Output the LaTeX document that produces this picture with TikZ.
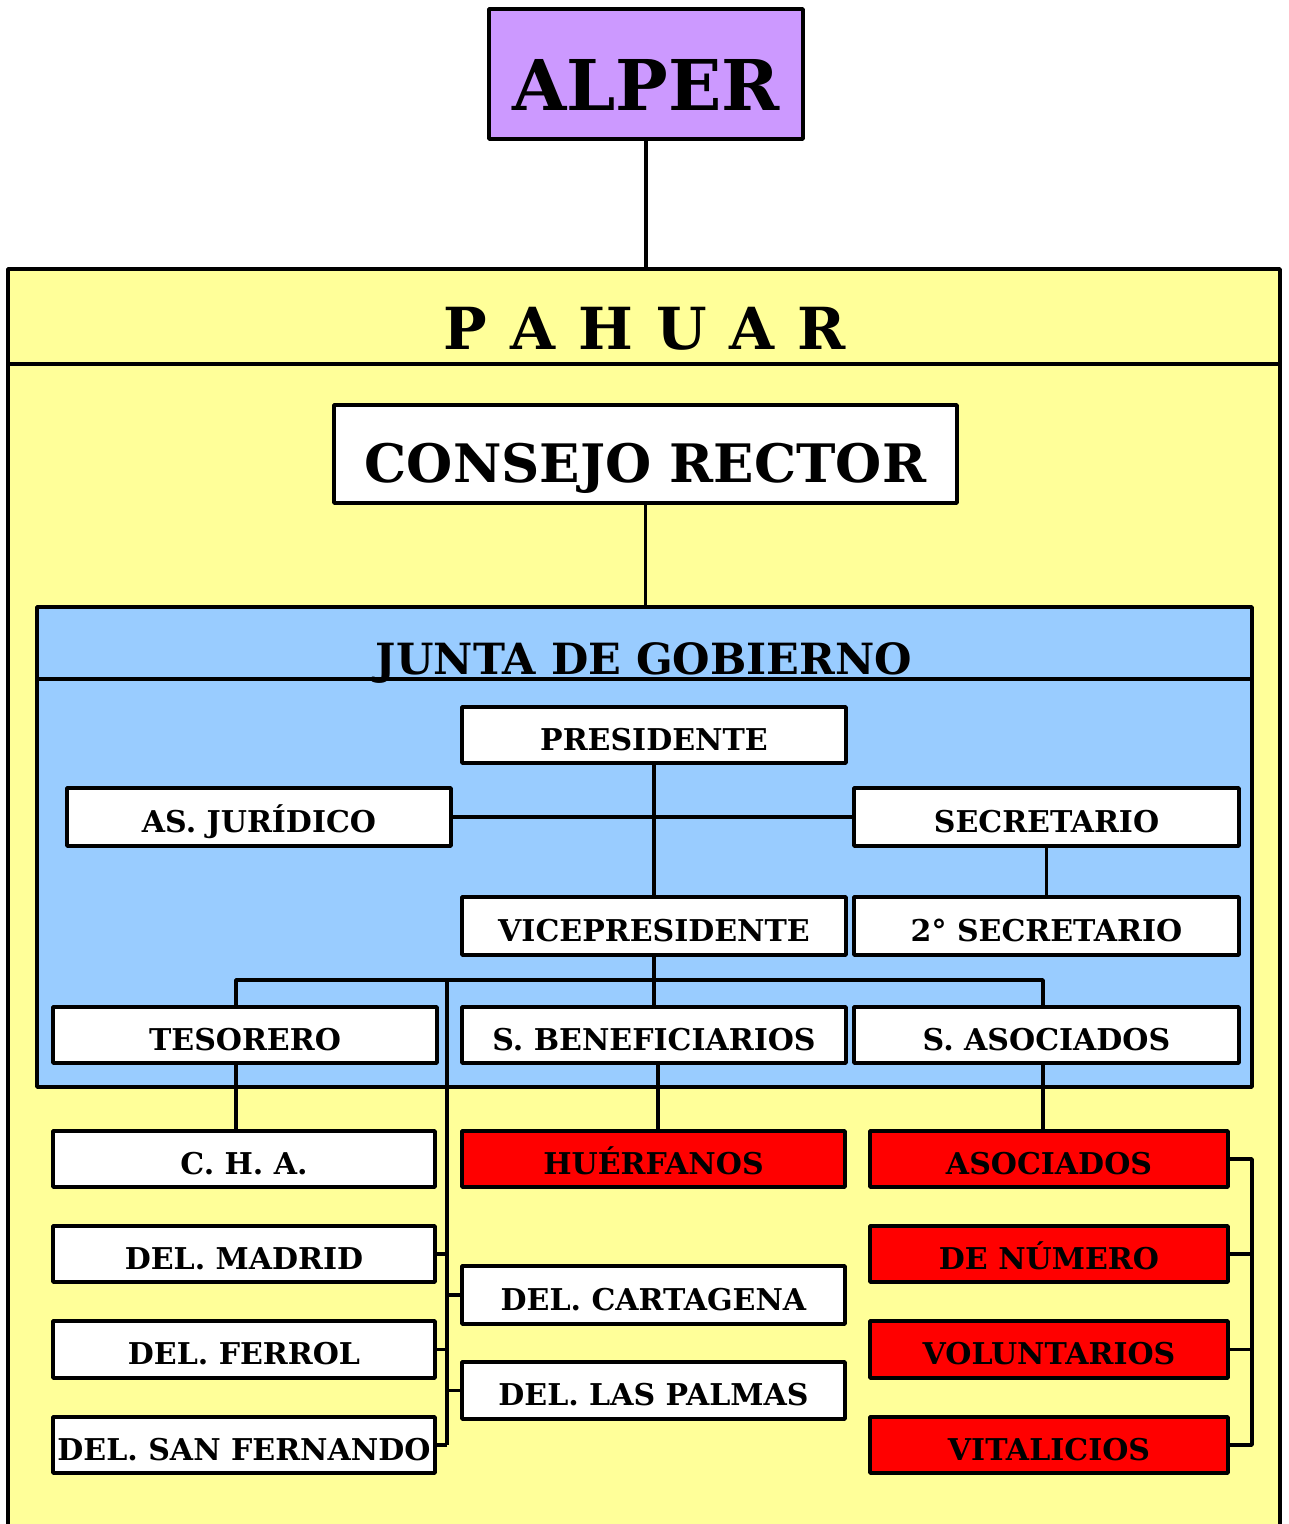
\documentclass[tikz,border=0pt]{standalone}
\usepackage{fontspec}
\setmainfont{DejaVu Serif}
\definecolor{pyellow}{HTML}{FFFF99}
\definecolor{pblue}{HTML}{99CCFF}
\definecolor{plav}{HTML}{CC99FF}
\definecolor{pred}{HTML}{FF0000}
\tikzset{
  lw/.style={line width=3.6pt, line join=round},
  bx/.style={lw, draw=black, fill=white, inner sep=0pt, font=\bfseries\fontsize{30}{31}\selectfont, text depth=0pt, text height=30pt},
  rbx/.style={bx, fill=pred},
  conn/.style={lw, draw=black, line cap=butt},
  wh/.style 2 args={minimum width=#1pt, minimum height=#2pt},
}
\begin{document}
\begin{tikzpicture}[x=1pt,y=-1pt]
\useasboundingbox (0,0) rectangle (1289,1524);
% PAHUAR outer frame
\fill[pyellow] (8,269) rectangle (1280,1540);
\draw[lw] (8,1540) -- (8,269) -- (1280,269) -- (1280,1540);
\draw[lw] (8,364) -- (1280,364);
\node[font=\bfseries\fontsize{58}{60}\selectfont, text depth=0pt, anchor=base] (pahuar) at (645,349)
  {P\hspace{23pt}A\hspace{23pt}H\hspace{23pt}U\hspace{23pt}A\hspace{23pt}R};
% Junta de gobierno
\node[lw, draw, fill=pblue, wh={1215}{480}, inner sep=0pt] (junta) at (644.5,847) {};
\draw[lw] (37,679) -- (1252,679);
\node[font=\bfseries\fontsize{43}{45}\selectfont, anchor=base] (juntat) at (644,674) {JUNTA DE GOBIERNO};
% Top boxes
\node[bx, fill=plav, wh={314}{130}, font=\bfseries\fontsize{70}{72}\selectfont, text height=73pt] (alper) at (646,74) {ALPER};
\node[bx, wh={623}{98}, font=\bfseries\fontsize{53}{55}\selectfont, text height=57pt] (consejo) at (645.5,454) {CONSEJO RECTOR};
\coordinate (pahtop) at (646,269);
\coordinate (juntatop) at (646,607);
\draw[conn] (alper.south) -- (alper.south |- pahtop);
\draw[conn] (consejo.south) -- (consejo.south |- juntatop);
% Junta nodes
\node[bx, wh={384}{56}] (pres) at (654,735) {PRESIDENTE};
\node[bx, wh={384}{58}] (jur) at (259,817) {AS. JURÍDICO};
\node[bx, wh={385}{58}] (sec) at (1046.5,817) {SECRETARIO};
\node[bx, wh={384}{58}] (vice) at (654,926) {VICEPRESIDENTE};
\node[bx, wh={385}{58}] (sec2) at (1046.5,926) {2° SECRETARIO};
\node[bx, wh={384}{56}] (tes) at (245,1035) {TESORERO};
\node[bx, wh={384}{56}] (sben) at (654,1035) {S. BENEFICIARIOS};
\node[bx, wh={385}{56}] (sasoc) at (1046.5,1035) {S. ASOCIADOS};
% Lower nodes
\node[bx, wh={382}{56}] (cha) at (244,1159) {C. H. A.};
\node[rbx, wh={383}{56}] (huer) at (653.5,1159) {HUÉRFANOS};
\node[rbx, wh={358}{56}] (asoc) at (1049,1159) {ASOCIADOS};
\node[bx, wh={382}{56}] (madrid) at (244,1254) {DEL. MADRID};
\node[bx, wh={382}{57}] (ferrol) at (244,1349.5) {DEL. FERROL};
\node[bx, wh={382}{56}] (sanf) at (244,1445) {DEL. SAN FERNANDO};
\node[bx, wh={383}{58}] (cart) at (653.5,1295) {DEL. CARTAGENA};
\node[bx, wh={383}{57}] (palmas) at (653.5,1390.5) {DEL. LAS PALMAS};
\node[rbx, wh={358}{56}] (num) at (1049,1254) {DE NÚMERO};
\node[rbx, wh={358}{57}] (vol) at (1049,1349.5) {VOLUNTARIOS};
\node[rbx, wh={358}{56}] (vit) at (1049,1445) {VITALICIOS};
% Junta connectors
\draw[conn] (pres.south) -- (vice.north);
\draw[conn] (jur.east) -- (sec.west);
\draw[conn] (sec.south) -- (sec2.north);
\coordinate (bus) at (654,980);
\coordinate (tesx) at (236,0);
\coordinate (asx) at (1043,0);
\coordinate (hux) at (658,0);
\draw[conn] (vice.south) -- (sben.north);
\draw[conn] (tesx |- tes.north) -- (tesx |- bus) -- (asx |- bus) -- (asx |- sasoc.north);
% Spine for delegations
\coordinate (spineTop) at (447,980);
\coordinate (spineBot) at (447,1445);
\draw[conn] (spineTop) -- (spineBot);
\draw[conn] (madrid.east) -- (madrid.east -| spineTop);
\draw[conn] (ferrol.east) -- (ferrol.east -| spineTop);
\draw[conn] (sanf.east) -- (spineBot);
\draw[conn] (cart.west) -- (cart.west -| spineTop);
\draw[conn] (palmas.west) -- (palmas.west -| spineTop);
% Lower connectors
\draw[conn] (tesx |- tes.south) -- (tesx |- cha.north);
\draw[conn] (hux |- sben.south) -- (hux |- huer.north);
\draw[conn] (asx |- sasoc.south) -- (asx |- asoc.north);
% Right bracket
\coordinate (brx) at (1252,0);
\draw[conn] (asoc.east) -- (asoc.east -| brx) -- (vit.east -| brx) -- (vit.east);
\draw[conn] (num.east) -- (num.east -| brx);
\draw[conn] (vol.east) -- (vol.east -| brx);
\end{tikzpicture}
\end{document}
